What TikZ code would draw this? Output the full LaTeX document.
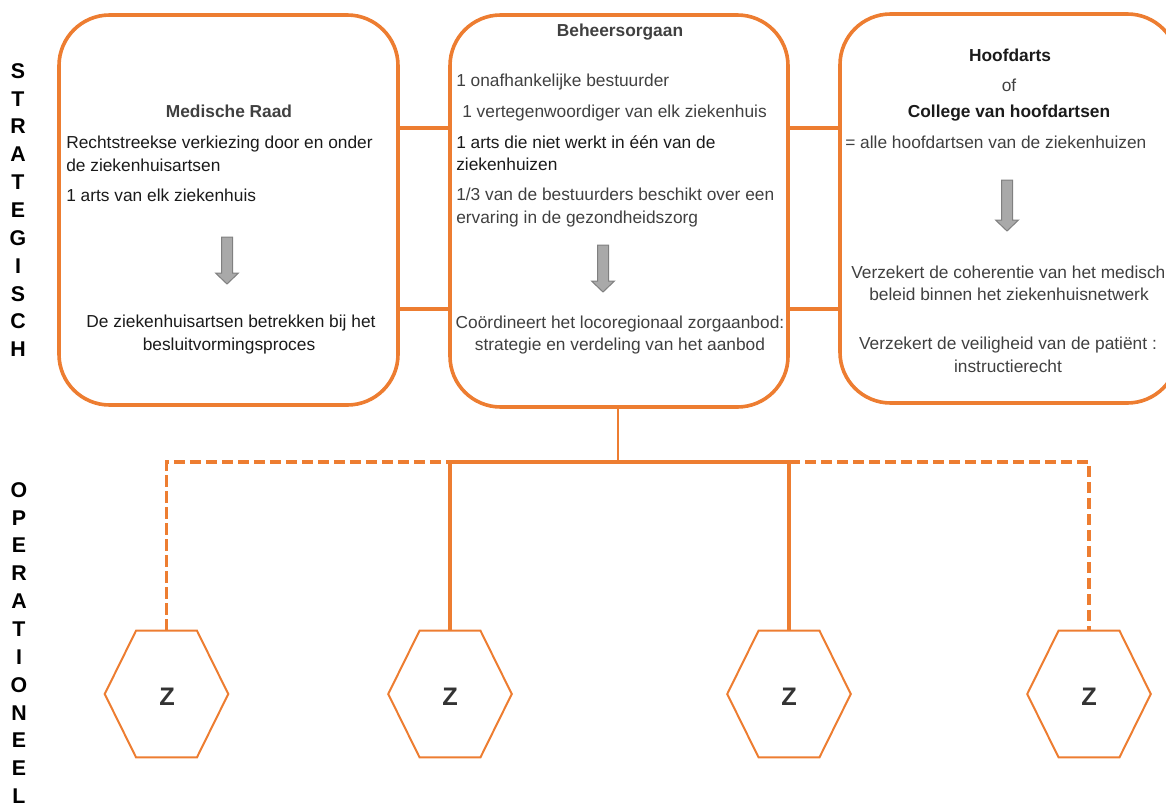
\documentclass[tikz,border=0pt]{standalone}
\usepackage{fontspec}
\setmainfont{Liberation Sans}
\usetikzlibrary{calc}
\definecolor{org}{HTML}{ED7D31}
\definecolor{tdark}{HTML}{1A1A1A}
\definecolor{tgray}{HTML}{404040}
\definecolor{zcol}{HTML}{333333}
\definecolor{afill}{HTML}{A9A9A9}
\definecolor{aline}{HTML}{808080}
\newcommand\blockarr[3]{%
  \filldraw[barrow] ({#1-5.5},#2) -- ({#1+5.5},#2) -- ({#1+5.5},{#3-11}) -- ({#1+11.5},{#3-11})
    -- (#1,#3) -- ({#1-11.5},{#3-11}) -- ({#1-5.5},{#3-11}) -- cycle;}
\newcommand\hexframe[1]{%
  \draw[hexline] ($(#1.north)+(-30.5,0)$) -- ($(#1.north)+(30.5,0)$) -- (#1.east)
    -- ($(#1.south)+(30.5,0)$) -- ($(#1.south)+(-30.5,0)$) -- (#1.west) -- cycle;}
\begin{document}
\begin{tikzpicture}[x=0.75pt,y=-0.75pt,
  box/.style={draw=org, line width=2.7pt, rounded corners=38pt, inner sep=0},
  link/.style={draw=org, line width=2.4pt},
  dlink/.style={draw=org, line width=2.3pt, dash pattern=on 8.5pt off 3.5pt},
  hexbox/.style={inner sep=0, minimum width=92.25pt, minimum height=94.5pt,
    font=\fontsize{19}{22}\selectfont\bfseries, text=zcol},
  zlbl/.style={inner sep=0, font=\fontsize{19}{22}\selectfont\bfseries, text=zcol},
  hexline/.style={draw=org, line width=1.5pt, line join=miter},
  txt/.style={inner sep=0, yshift=-2.25pt, font=\fontsize{13}{17}\selectfont, text=tgray},
  txtk/.style={txt, text=tdark},
  ttl/.style={inner sep=0, yshift=-2.25pt, font=\fontsize{13}{17}\selectfont\bfseries, text=tgray},
  ttlk/.style={ttl, text=tdark},
  side/.style={inner sep=0, align=center, font=\fontsize{16}{20.9}\selectfont\bfseries, text=black},
  barrow/.style={fill=afill, draw=aline, line width=0.75pt}
]
\useasboundingbox (0,0) rectangle (1166,803);
\clip (0,0) rectangle (1166,803);

% side labels
\node[side, anchor=north] (strat) at (18,63) {S\\T\\R\\A\\T\\E\\G\\I\\S\\C\\H};
\node[side, anchor=north] (oper) at (19,482) {O\\P\\E\\R\\A\\T\\I\\O\\N\\E\\E\\L};

% boxes
\node[box, minimum width=254.25pt, minimum height=292.5pt] (lbox) at (228.5,210) {};
\node[box, minimum width=253.5pt, minimum height=294pt] (mbox) at (619,211) {};
\node[box, minimum width=253.5pt, minimum height=291.75pt] (rbox) at (1009,208.5) {};

% links between boxes
\coordinate (ya) at (0,128);
\coordinate (yb) at (0,309);
\draw[link] (lbox.east |- ya) -- (mbox.west |- ya);
\draw[link] (lbox.east |- yb) -- (mbox.west |- yb);
\draw[link] (mbox.east |- ya) -- (rbox.west |- ya);
\draw[link] (mbox.east |- yb) -- (rbox.west |- yb);

% left box text
\node[ttl, anchor=mid] (mr) at (229,111) {Medische Raad};
\node[txtk, anchor=mid west] (l1) at (66,142) {Rechtstreekse verkiezing door en onder};
\node[txtk, anchor=mid west] (l2) at (66,165) {de ziekenhuisartsen};
\node[txtk, anchor=mid west] (l3) at (66,195) {1 arts van elk ziekenhuis};
\blockarr{227}{237}{284}
\node[txtk, anchor=mid] (l4) at (231,321) {De ziekenhuisartsen betrekken bij het};
\node[txtk, anchor=mid] (l5) at (229,344) {besluitvormingsproces};

% middle box text
\node[ttl, anchor=mid] (bo) at (620,30) {Beheersorgaan};
\node[txt, anchor=mid west] (m1) at (456,80) {1 onafhankelijke bestuurder};
\node[txt, anchor=mid west] (m2) at (462,111) {1 vertegenwoordiger van elk ziekenhuis};
\node[txtk, anchor=mid west] (m3) at (456,142) {1 arts die niet werkt in één van de};
\node[txtk, anchor=mid west] (m4) at (456,164) {ziekenhuizen};
\node[txt, anchor=mid west] (m5) at (456,194) {1/3 van de bestuurders beschikt over een};
\node[txt, anchor=mid west] (m6) at (456,217) {ervaring in de gezondheidszorg};
\blockarr{603}{245}{292}
\node[txt, anchor=mid] (m7) at (620,322) {Coördineert het locoregionaal zorgaanbod:};
\node[txt, anchor=mid] (m8) at (620,344) {strategie en verdeling van het aanbod};

% right box text
\node[ttlk, anchor=mid] (hd) at (1010,55) {Hoofdarts};
\node[txt, anchor=mid] (of) at (1009,85) {of};
\node[ttlk, anchor=mid] (cv) at (1009,111) {College van hoofdartsen};
\node[txt, anchor=mid west] (r1) at (845,142) {= alle hoofdartsen van de ziekenhuizen};
\blockarr{1007}{180}{231}
\node[txt, anchor=mid west] (r2) at (851,272) {Verzekert de coherentie van het medisch};
\node[txt, anchor=mid] (r3) at (1009,294) {beleid binnen het ziekenhuisnetwerk};
\node[txt, anchor=mid] (r4) at (1008,343) {Verzekert de veiligheid van de patiënt :};
\node[txt, anchor=mid] (r5) at (1008,366) {instructierecht};

% hexagons
\node[hexbox] (h1) at (166.5,694) {};
\node[hexbox] (h2) at (450,694) {};
\node[hexbox] (h3) at (789,694) {};
\node[hexbox] (h4) at (1089,694) {};
\node[zlbl] (z1) at (167,697) {Z};
\node[zlbl] (z2) at (450,697) {Z};
\node[zlbl] (z3) at (789,697) {Z};
\node[zlbl] (z4) at (1089,697) {Z};
\hexframe{h1}
\hexframe{h2}
\hexframe{h3}
\hexframe{h4}

% bus
\coordinate (bus) at (618,462);
\draw[link, line width=2pt] (mbox.south -| bus) -- (bus);
\draw[link] (h2.north |- bus) -- (h3.north |- bus);
\draw[link] (h2.north |- bus) -- (h2.north);
\draw[link] (h3.north |- bus) -- (h3.north);
\draw[dlink] (h1.north) -- (h1.north |- bus) -- (h2.north |- bus);
\draw[dlink] (h3.north |- bus) -- (h4.north |- bus) -- (h4.north);
\end{tikzpicture}
\end{document}
